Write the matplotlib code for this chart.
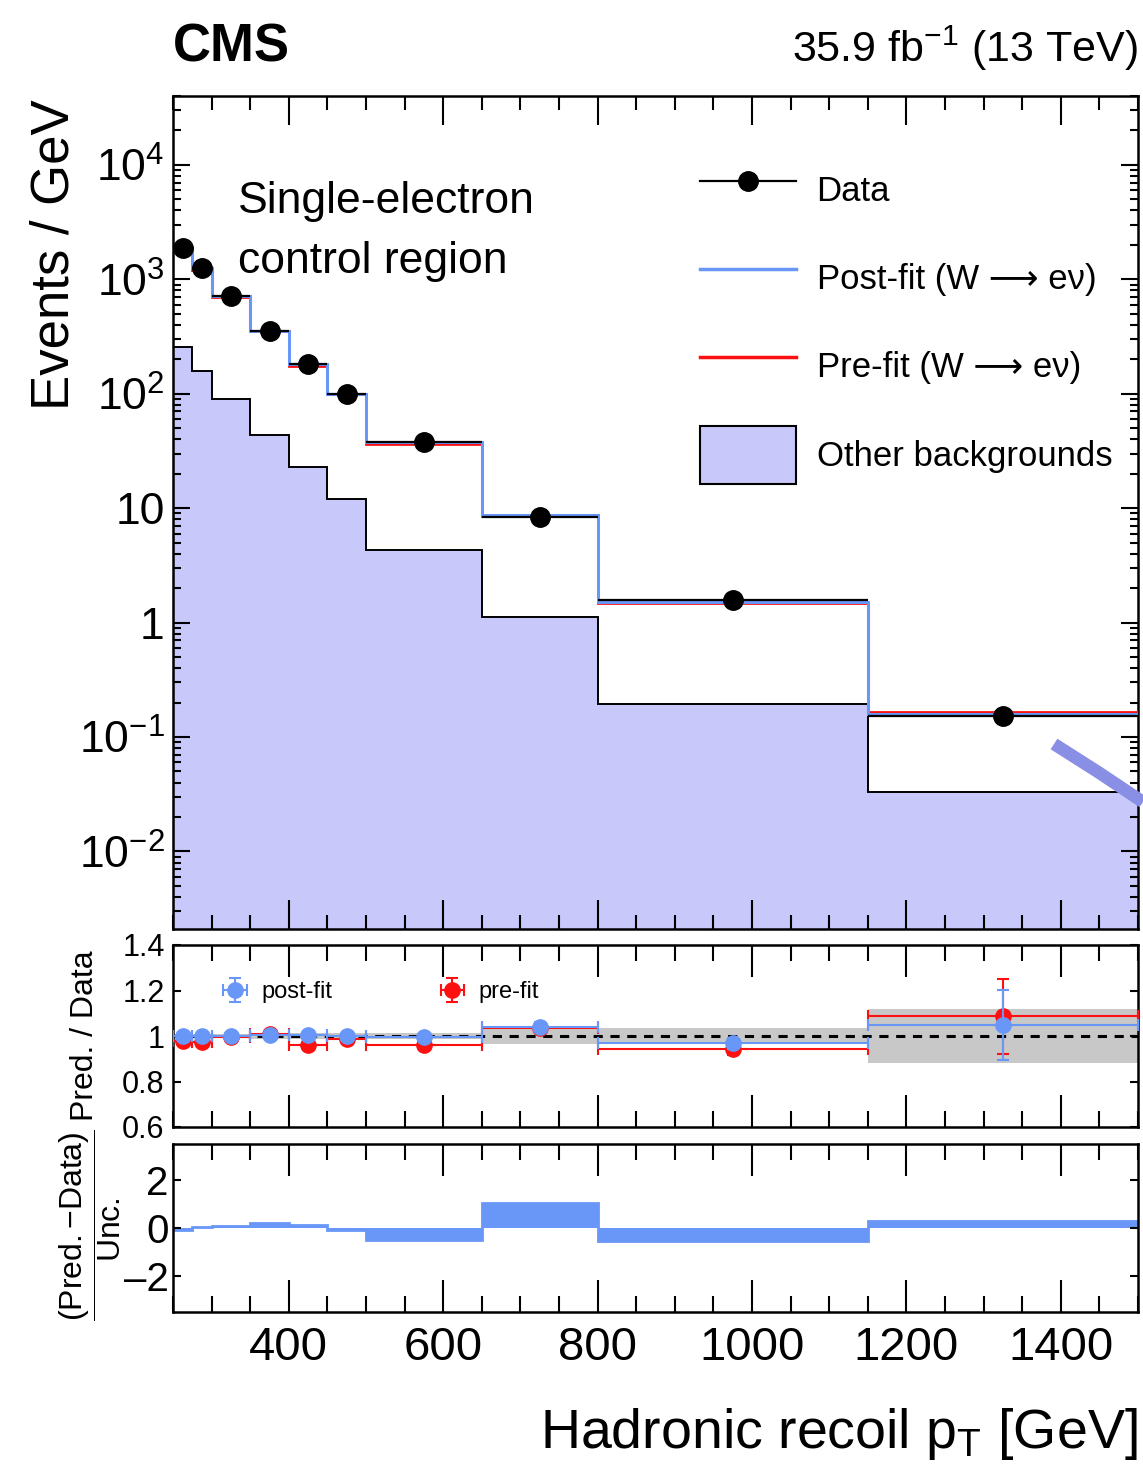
import numpy as np
import matplotlib
matplotlib.use('Agg')
import matplotlib.pyplot as plt
from matplotlib.patches import Patch
from matplotlib.lines import Line2D
from matplotlib.ticker import MultipleLocator, LogLocator, FuncFormatter, NullFormatter, FixedLocator

plt.rcParams['font.family'] = ['Liberation Sans', 'DejaVu Sans']
plt.rcParams['mathtext.fontset'] = 'custom'
plt.rcParams['mathtext.rm'] = 'Liberation Sans'
plt.rcParams['mathtext.it'] = 'Liberation Sans:italic'
plt.rcParams['mathtext.bf'] = 'Liberation Sans:bold'
plt.rcParams['mathtext.default'] = 'regular'

# binning and values (events / GeV)
edges = [250, 275, 300, 350, 400, 450, 500, 650, 800, 1150, 1500]
data = [1870, 1250, 710, 350, 183, 100, 38, 8.3, 1.56, 0.153]
other_bkg = [257, 159, 90, 44, 23, 12, 4.3, 1.13, 0.195, 0.033]

# Pred. / Data
ratio_postfit = [1.0, 1.0, 1.0, 1.003, 1.003, 1.0, 0.996, 1.04, 0.968, 1.048]
ratio_prefit = [0.98, 0.974, 0.996, 1.01, 0.962, 0.985, 0.959, 1.037, 0.943, 1.086]
err_postfit = [0.01, 0.01, 0.01, 0.012, 0.014, 0.015, 0.018, 0.02, 0.025, 0.155]
err_prefit = [0.01, 0.01, 0.01, 0.012, 0.014, 0.015, 0.018, 0.02, 0.025, 0.165]
unc_band = [0.008, 0.008, 0.01, 0.012, 0.014, 0.015, 0.012, 0.035, 0.037, 0.12]

# (Pred.-Data)/Unc.
pull_postfit = [-0.1, 0.04, 0.07, 0.2, 0.14, -0.1, -0.5, 1.05, -0.55, 0.28]

BLUE = '#6897f7'
RED = '#ff1010'
LAVENDER = '#c8c8fa'

edges_a = np.array(edges)
centers = 0.5 * (edges_a[1:] + edges_a[:-1])
halfw = 0.5 * (edges_a[1:] - edges_a[:-1])
post = np.array(data) * np.array(ratio_postfit)
pre = np.array(data) * np.array(ratio_prefit)

W, H = 1143, 1476
fig = plt.figure(figsize=(W / 100, H / 100), dpi=100)


def px_axes(left, top, right, bottom):
    return fig.add_axes([left / W, 1 - bottom / H, (right - left) / W, (bottom - top) / H])


ax = px_axes(173, 96, 1138, 929)
axr = px_axes(173, 945, 1138, 1127)
axp = px_axes(173, 1144, 1138, 1312)

for a in (ax, axr, axp):
    for s in a.spines.values():
        s.set_linewidth(1.8)
    a.set_xlim(250, 1500)
    a.xaxis.set_major_locator(FixedLocator([400, 600, 800, 1000, 1200, 1400]))
    a.xaxis.set_minor_locator(MultipleLocator(50))
    a.tick_params(which='both', direction='in', top=True, right=True, width=1.5)

# ---- main panel ----
ax.set_yscale('log')
ax.stairs(other_bkg, edges, baseline=1e-5, fill=True, facecolor=LAVENDER, zorder=1)
ax.stairs(other_bkg, edges, baseline=None, color='black', lw=1.4, zorder=2)
ax.stairs(pre, edges, baseline=None, color=RED, lw=2.0, zorder=3)
ax.stairs(post, edges, baseline=None, color=BLUE, lw=2.2, zorder=4)
ax.errorbar(centers, data, xerr=halfw, fmt='o', color='black', ms=14,
            elinewidth=1.6, capsize=0, zorder=5)
ax.set_ylim(2.1e-3, 4e4)
ax.yaxis.set_major_locator(FixedLocator([1e-2, 1e-1, 1, 10, 1e2, 1e3, 1e4]))
ax.yaxis.set_minor_locator(LogLocator(base=10, subs=np.arange(2, 10), numticks=20))
ax.yaxis.set_minor_formatter(NullFormatter())


def log_label(v, pos):
    n = int(round(np.log10(v)))
    if n == 0:
        return '1'
    if n == 1:
        return '10'
    return '$10^{%d}$' % n


ax.yaxis.set_major_formatter(FuncFormatter(log_label))
ax.tick_params(axis='y', which='major', length=12, labelsize=32, pad=6)
ax.tick_params(axis='y', which='minor', length=6)
ax.tick_params(axis='x', which='major', length=21, labelbottom=False)
ax.tick_params(axis='x', which='minor', length=10)

handles = [Line2D([], [], color='black', lw=1.6, marker='o', ms=14),
           Line2D([], [], color=BLUE, lw=2.5),
           Line2D([], [], color=RED, lw=2.5),
           Patch(facecolor=LAVENDER, edgecolor='black', lw=1.5)]
labels = ['Data', 'Post-fit (W \u27f6 e\u03bd)', 'Pre-fit (W \u27f6 e\u03bd)', 'Other backgrounds']
ax.legend(handles, labels, loc='upper left', bbox_to_anchor=(0.532, 0.939), frameon=False,
          fontsize=25, handlelength=2.75, handleheight=2.2, labelspacing=0.87,
          handletextpad=0.6, borderaxespad=0)

ax.text(0.067, 0.86, 'Single-electron', transform=ax.transAxes, fontsize=32, va='baseline')
ax.text(0.067, 0.788, 'control region', transform=ax.transAxes, fontsize=32, va='baseline')

# stray highlight stroke in the source image
fig.add_artist(Line2D([1054 / W, 1098 / W, 1143 / W], [1 - 744 / H, 1 - 772 / H, 1 - 802 / H],
                      transform=fig.transFigure, color='#8a8fe6', lw=9, solid_capstyle='butt'))

# ---- ratio panel ----
band_hi = 1 + np.array(unc_band)
band_lo = 1 - np.array(unc_band)
axr.stairs(band_hi, edges, baseline=band_lo, fill=True, color='#c8c8c8', zorder=1)
axr.axhline(1, color='black', ls=(0, (3, 2.5)), lw=2.2, zorder=2)
hpre = axr.errorbar(centers, ratio_prefit, xerr=halfw, yerr=err_prefit, fmt='o', color=RED,
                    ms=11, elinewidth=1.5, capsize=4, capthick=1.5, zorder=3)
hpost = axr.errorbar(centers, ratio_postfit, xerr=halfw, yerr=err_postfit, fmt='o', color=BLUE,
                     ms=11, elinewidth=1.5, capsize=4, capthick=1.5, zorder=4)
axr.set_ylim(0.6, 1.4)
axr.yaxis.set_major_locator(FixedLocator([0.6, 0.8, 1.0, 1.2, 1.4]))
axr.yaxis.set_major_formatter(FuncFormatter(lambda v, p: '%g' % v))
axr.tick_params(axis='y', which='major', length=6, labelsize=22, pad=6)
axr.tick_params(axis='x', which='major', length=23, labelbottom=False)
axr.tick_params(axis='x', which='minor', length=11.5)
axr.legend([hpost, hpre], ['post-fit', 'pre-fit'], ncol=2, loc='center left',
           bbox_to_anchor=(0.035, 0.74), frameon=False, fontsize=17, handlelength=1.6,
           handletextpad=0.3, columnspacing=4.3, borderaxespad=0)

# ---- pull panel ----
axp.stairs(pull_postfit, edges, baseline=0, fill=True, color=BLUE, lw=0)
axp.stairs(pull_postfit, edges, baseline=None, color=BLUE, lw=2)
axp.set_ylim(-3.5, 3.5)
axp.yaxis.set_major_locator(FixedLocator([-2, 0, 2]))
axp.yaxis.set_major_formatter(FuncFormatter(lambda v, p: ('%d' % v).replace('-', '\u2013')))
axp.tick_params(axis='y', which='major', length=6, labelsize=29, pad=3)
axp.tick_params(axis='x', which='major', length=23, labelsize=34, pad=10)
axp.tick_params(axis='x', which='minor', length=11.5)

# ---- labels ----
fig.text(173 / W, 1 - 62 / H, 'CMS', fontsize=38, fontweight='bold', va='baseline')
fig.text(1138 / W, 1 - 62 / H, '35.9 fb$^{-1}$ (13 TeV)', fontsize=31, ha='right', va='baseline')
fig.text(55 / W, 1 - 255 / H, 'Events / GeV', fontsize=38, rotation=90, ha='center', va='center')
fig.text(85 / W, 1 - 1036 / H, 'Pred. / Data', fontsize=23, rotation=90, ha='center', va='center')
fig.text(90 / W, 1 - 1225 / H, r'$\dfrac{\mathrm{(Pred.{-}Data)}}{\mathrm{Unc.}}$', fontsize=23,
         rotation=90, ha='center', va='center')
fig.text(1138 / W, 1 - 1448 / H, r'Hadronic recoil $\mathrm{p}_{\mathrm{T}}$ [GeV]', fontsize=40,
         ha='right', va='baseline')

fig.savefig('out.png', dpi=100)
